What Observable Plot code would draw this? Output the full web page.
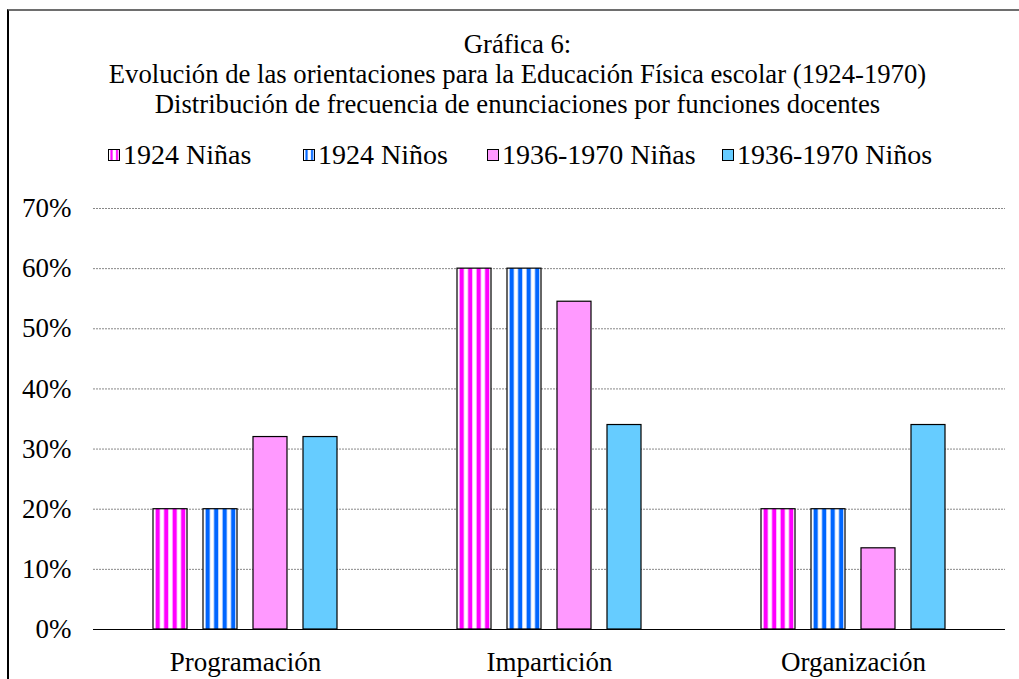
<!DOCTYPE html>
<html>
<head>
<meta charset="utf-8">
<script src="https://cdn.jsdelivr.net/npm/d3@7"></script>
<script src="https://cdn.jsdelivr.net/npm/@observablehq/plot@0.6"></script>
<style>
  html, body { margin: 0; padding: 0; background: #fff; }
  body { width: 1019px; height: 679px; position: relative; overflow: hidden;
         font-family: "Liberation Serif", "Times New Roman", serif; color: #000; }
  #frame { position: absolute; left: 7px; top: 9px; width: 1100px; height: 800px;
           border-top: 2px solid #6e6e6e; border-left: 2px solid #000; box-sizing: border-box; }
  #title { position: absolute; left: 8px; top: 29px; width: 1019px; text-align: center;
           font-size: 26.7px; line-height: 30px; }
  #legend { position: absolute; left: 0; top: 139px; width: 1019px; height: 32px;
            font-size: 28px; line-height: 32px; white-space: nowrap;
            font-family: "Liberation Serif", "Times New Roman", serif; }
  #legend .item { position: absolute; top: 0; display: flex; align-items: center; }
  #legend svg { margin-right: 2px; }
  #chart { position: absolute; left: 0; top: 190px; }
</style>
</head>
<body>
<svg width="0" height="0" style="position:absolute">
  <defs>
    <pattern id="pNinas" patternUnits="objectBoundingBox" patternContentUnits="objectBoundingBox" width="0.25" height="1">
      <rect width="0.25" height="1" fill="#ffffff"/>
      <rect x="0.075" width="0.125" height="1" fill="#ff00ff"/>
    </pattern>
    <pattern id="pNinos" patternUnits="objectBoundingBox" patternContentUnits="objectBoundingBox" width="0.25" height="1">
      <rect width="0.25" height="1" fill="#ffffff"/>
      <rect x="0.075" width="0.125" height="1" fill="#0066ff"/>
    </pattern>
    <pattern id="lNinas" patternUnits="objectBoundingBox" patternContentUnits="objectBoundingBox" width="0.5" height="1">
      <rect width="0.5" height="1" fill="#ffffff"/>
      <rect x="0.18" width="0.2" height="1" fill="#ff00ff"/>
    </pattern>
    <pattern id="lNinos" patternUnits="objectBoundingBox" patternContentUnits="objectBoundingBox" width="0.5" height="1">
      <rect width="0.5" height="1" fill="#ffffff"/>
      <rect x="0.18" width="0.2" height="1" fill="#0066ff"/>
    </pattern>
  </defs>
</svg>
<div id="frame"></div>
<div id="title">Gráfica 6:<br>Evolución de las orientaciones para la Educación Física escolar (1924-1970)<br>Distribución de frecuencia de enunciaciones por funciones docentes</div>
<div id="legend"></div>
<div id="chart"></div>
<script>
const categories = ["Programación", "Impartición", "Organización"];
const series = ["1924 Niñas", "1924 Niños", "1936-1970 Niñas", "1936-1970 Niños"];
const values1924Ninas = [20, 60, 20];
const values1924Ninos = [20, 60, 20];
const values1936Ninas = [32, 54.5, 13.5];
const values1936Ninos = [32, 34, 34];
const yTicks = [0, 10, 20, 30, 40, 50, 60, 70];
const seriesFills = ["url(#pNinas)", "url(#pNinos)", "#ff99ff", "#66ccff"];
const legendFills = ["url(#lNinas)", "url(#lNinos)", "#ff99ff", "#66ccff"];

const seriesValues = [values1924Ninas, values1924Ninos, values1936Ninas, values1936Ninos];
const data = [];
categories.forEach((c, i) => {
  series.forEach((s, j) => data.push({cat: c, serie: s, value: seriesValues[j][i]}));
});

const fontFamily = '"Liberation Serif", "Times New Roman", serif';

const chart = Plot.plot({
  width: 1019,
  height: 490,
  marginTop: 18,
  marginLeft: 92,
  marginRight: 14,
  marginBottom: 51,
  style: {fontFamily, fontSize: "27px", color: "#000", background: "transparent", overflow: "visible"},
  fx: {domain: categories, padding: 0, label: null, tickSize: 0, tickPadding: 22},
  x: {domain: series, axis: null, paddingInner: 0.33, paddingOuter: 1.18},
  y: {domain: [0, 70], ticks: yTicks, tickFormat: d => d + "%", tickSize: 0, tickPadding: 22, label: null},
  color: {domain: series, range: seriesFills},
  marks: [
    Plot.ruleY(yTicks.filter(d => d > 0), {stroke: "#888", strokeDasharray: "2,1"}),
    Plot.barY(data, {fx: "cat", x: "serie", y: "value", fill: "serie", stroke: "#000", strokeWidth: 1.2}),
    Plot.ruleY([0], {stroke: "#000", strokeWidth: 1.2})
  ]
});
document.getElementById("chart").appendChild(chart);

// legend entry placement (layout only)
const legendLefts = [108, 303, 487, 722];
const legend = document.getElementById("legend");
series.forEach((s, i) => {
  const item = document.createElement("div");
  item.className = "item";
  item.style.left = legendLefts[i] + "px";
  item.innerHTML = `<svg width="13" height="13"><rect x="0.5" y="0.5" width="11" height="11" fill="${legendFills[i]}" stroke="#000" stroke-width="1"/></svg><span>${s}</span>`;
  legend.appendChild(item);
});
</script>
</body>
</html>
